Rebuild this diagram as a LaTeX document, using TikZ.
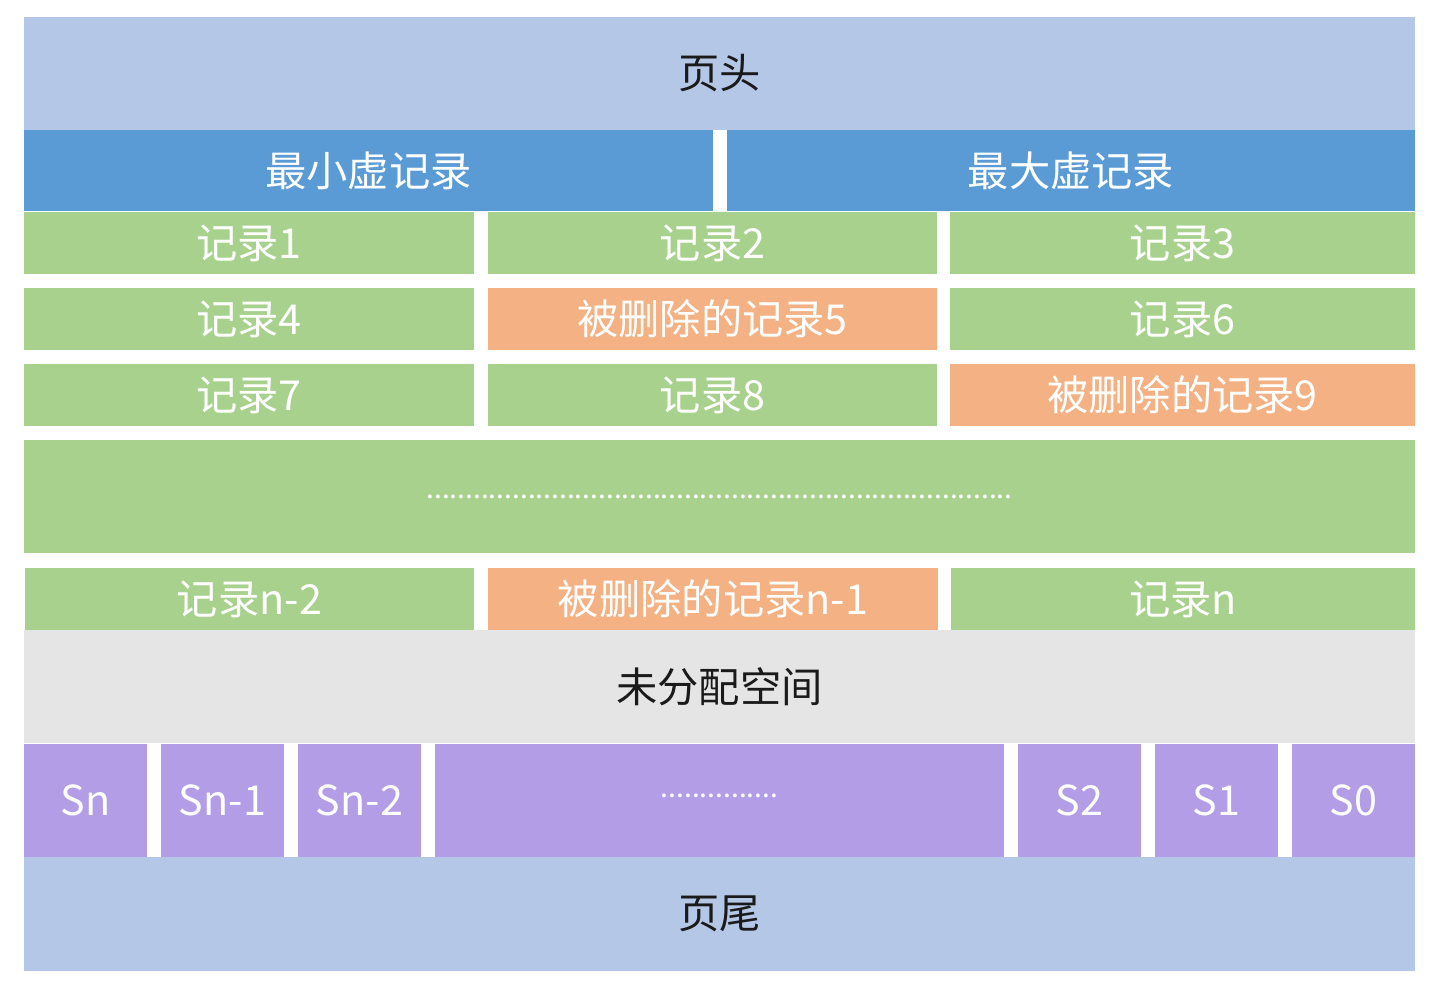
\documentclass[tikz,border=0pt]{standalone}
\usepackage{fontspec}
\setmainfont{Noto Sans CJK SC}
\usetikzlibrary{positioning}
\definecolor{pagebar}{HTML}{B4C7E7}
\definecolor{virt}{HTML}{5B9BD5}
\definecolor{rec}{HTML}{A9D18E}
\definecolor{del}{HTML}{F4B183}
\definecolor{free}{HTML}{E5E5E5}
\definecolor{slot}{HTML}{B39DE6}
\definecolor{ink}{HTML}{1A1A1A}

\tikzset{
  blk/.style={rectangle,inner sep=0pt,text=white,font=\fontsize{23.5}{26}\selectfont},
  sz/.style 2 args={minimum width=#1*0.02cm,minimum height=#2*0.02cm},
  dark/.style={text=ink}
}

\begin{document}
\begin{tikzpicture}[x=0.02cm,y=-0.02cm]
  \useasboundingbox (0,0) rectangle (1437,992);
  % header and virtual records
  \node[blk,dark,fill=pagebar,sz={1391}{113}] (head) at (719.5,73.5) {\raisebox{-2pt}{页头}};
  \node[blk,fill=virt,sz={689}{81}] (infimum) at (368.5,170.5) {最小虚记录};
  \node[blk,fill=virt,sz={688}{81}] (supremum) at (1071,170.5) {最大虚记录};

  % user records
  \node[blk,fill=rec,sz={450}{62}] (r1) at (249,243) {记录1};
  \node[blk,fill=rec,sz={449}{62}] (r2) at (712.5,243) {记录2};
  \node[blk,fill=rec,sz={465}{62}] (r3) at (1182.5,243) {记录3};
  \node[blk,fill=rec,sz={450}{62}] (r4) at (249,319) {记录4};
  \node[blk,fill=del,sz={449}{62}] (r5) at (712.5,319) {被删除的记录5};
  \node[blk,fill=rec,sz={465}{62}] (r6) at (1182.5,319) {记录6};
  \node[blk,fill=rec,sz={450}{62}] (r7) at (249,395) {记录7};
  \node[blk,fill=rec,sz={449}{62}] (r8) at (712.5,395) {记录8};
  \node[blk,fill=del,sz={465}{62}] (r9) at (1182.5,395) {被删除的记录9};
  \node[blk,fill=rec,sz={1391}{113}] (more) at (719.5,496.5)
    {\fontsize{16}{18}\selectfont ...........................................................................};
  \node[blk,fill=rec,sz={449}{62}] (rn2) at (249.5,599) {记录n-2};
  \node[blk,fill=del,sz={450}{62}] (rn1) at (713,599) {被删除的记录n-1};
  \node[blk,fill=rec,sz={464}{62}] (rn) at (1183,599) {记录n};

  % free space and directory slots
  \node[blk,dark,fill=free,sz={1391}{113}] (freespace) at (719.5,686.5) {\raisebox{-2pt}{未分配空间}};
  \node[blk,fill=slot,sz={123}{113}] (sn) at (85.5,800.5) {Sn};
  \node[blk,fill=slot,sz={123}{113}] (sn1) at (222.5,800.5) {Sn-1};
  \node[blk,fill=slot,sz={123}{113}] (sn2) at (359.5,800.5) {Sn-2};
  \node[blk,fill=slot,sz={569}{113}] (smid) at (719.5,800.5)
    {\fontsize{16}{18}\selectfont \raisebox{.35em}{...............}};
  \node[blk,fill=slot,sz={123}{113}] (s2) at (1079.5,800.5) {S2};
  \node[blk,fill=slot,sz={123}{113}] (s1) at (1216.5,800.5) {S1};
  \node[blk,fill=slot,sz={123}{113}] (s0) at (1353.5,800.5) {S0};

  % trailer
  \node[blk,dark,fill=pagebar,sz={1391}{114}] (tail) at (719.5,914) {\raisebox{-2pt}{页尾}};
\end{tikzpicture}
\end{document}
